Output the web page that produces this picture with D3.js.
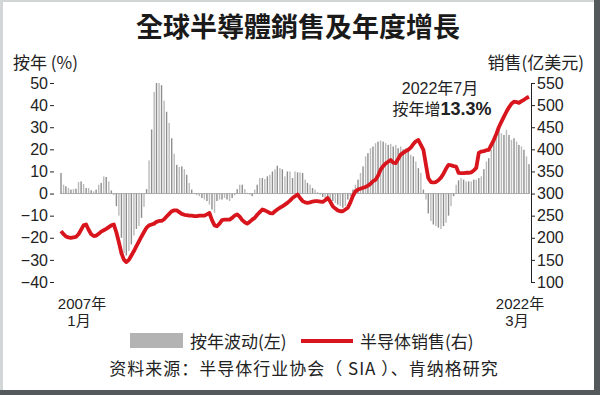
<!DOCTYPE html>
<html>
<head>
<meta charset="utf-8">
<script src="https://cdn.jsdelivr.net/npm/d3@7"></script>
<style>
body{margin:0;background:#54595b;}
svg{display:block;}
</style>
</head>
<body>
<svg id="chart" width="600" height="395"></svg>
<script>
// monthly data, 2007-01 .. 2022-07
var start_month = "2007-01";

// YoY change (%), left axis
var yoy_2007 = [9.3, 4.0, 3.3, 2.5, 1.8, 2.0, 2.2, 5.2, 5.5, 4.3, 2.5, 2.5];
var yoy_2008 = [1.5, 1.0, 1.8, 4.0, 4.8, 7.8, 7.5, 5.5, 1.4, -0.7, -5.7, -10];
var yoy_2009 = [-20, -27, -28, -26, -23, -19, -16, -14.7, -11, -6, 2, 15];
var yoy_2010 = [29, 46, 50, 50, 49, 42, 37, 32, 25, 18, 13, 12];
var yoy_2011 = [12.3, 11, 8.5, 4.8, 1.8, 0.3, -0.5, -1.2, -2, -2.7, -3.4, -5];
var yoy_2012 = [-7.2, -8.7, -3.4, -2.7, -2.7, -2, -2.7, -3.4, -2, -0.8, 2, 4];
var yoy_2013 = [4, 2, 0.3, -0.5, -1.2, 1.8, 4, 7, 7, 6.6, 7.8, 8.5];
var yoy_2014 = [10, 11, 12.6, 11.5, 11, 7.8, 10, 10, 7, 10, 9.6, 9.6];
var yoy_2015 = [9.3, 6.3, 4.8, 4, 2.5, 1.8, 0.5, -0.5, -1.5, -2, -2.7, -3];
var yoy_2016 = [-3.4, -4.2, -5, -5.7, -6.4, -5.7, -2.7, -1.2, 1.8, 4, 6.3, 9.3];
var yoy_2017 = [12.3, 16.8, 18.3, 20.5, 21.3, 22.8, 23.5, 24, 23.5, 22.8, 22, 22.5];
var yoy_2018 = [21.3, 22, 20.5, 21.3, 20, 20.5, 19.5, 17.5, 16.8, 14.5, 11.5, 9.3];
var yoy_2019 = [1.8, -2.7, -9, -12.4, -14, -14.7, -15.4, -16, -14.7, -13.2, -10, -5.7];
var yoy_2020 = [-1.2, 4, 6, 7, 6.3, 5.5, 5.5, 5.5, 6.3, 6.3, 7, 7.8];
var yoy_2021 = [11, 14.5, 16, 19.8, 24.3, 28, 29.5, 27.3, 26.5, 28.8, 26.5, 24.3];
var yoy_2022 = [25, 23.5, 22, 21.3, 19.8, 16.8, 13.3];

// sales (亿美元), right axis
var sales_2007 = [215, 208, 203, 201, 200, 201, 202, 208, 218, 228, 230, 218];
var sales_2008 = [208, 204, 205, 209, 214, 217, 220, 224, 228, 230, 212, 190];
var sales_2009 = [165, 150, 145, 150, 160, 170, 181, 192, 203, 213, 223, 228];
var sales_2010 = [230, 232, 236, 238, 238, 242, 248, 254, 260, 262, 262, 258];
var sales_2011 = [254, 252, 251, 250, 250, 249, 249, 250, 250, 250, 253, 256];
var sales_2012 = [240, 228, 226, 232, 240, 241, 241, 241, 245, 250, 253, 248];
var sales_2013 = [240, 235, 232, 236, 241, 245, 252, 258, 264, 262, 259, 256];
var sales_2014 = [255, 260, 264, 268, 271, 275, 279, 284, 290, 294, 298, 290];
var sales_2015 = [283, 280, 279, 280, 282, 283, 283, 282, 281, 285, 290, 282];
var sales_2016 = [271, 266, 262, 260, 260, 264, 268, 280, 295, 305, 309, 311];
var sales_2017 = [313, 315, 318, 322, 328, 331, 340, 354, 362, 368, 372, 376];
var sales_2018 = [370, 369, 378, 388, 392, 396, 399, 404, 412, 418, 421, 410];
var sales_2019 = [399, 365, 335, 326, 325, 326, 330, 336, 345, 356, 365, 364];
var sales_2020 = [362, 361, 347, 346, 346, 347, 347, 348, 352, 358, 392, 395];
var sales_2021 = [396, 398, 399, 410, 421, 435, 450, 462, 474, 485, 495, 503];
var sales_2022 = [508, 507, 505, 509, 512, 516, 519];

var pct_ticks = [-40, -30, -20, -10, 0, 10, 20, 30, 40, 50];
var sales_ticks = [100, 150, 200, 250, 300, 350, 400, 450, 500, 550];

var yoy = [].concat(yoy_2007, yoy_2008, yoy_2009, yoy_2010, yoy_2011, yoy_2012,
	yoy_2013, yoy_2014, yoy_2015, yoy_2016, yoy_2017, yoy_2018, yoy_2019,
	yoy_2020, yoy_2021, yoy_2022);
var sales = [].concat(sales_2007, sales_2008, sales_2009, sales_2010, sales_2011,
	sales_2012, sales_2013, sales_2014, sales_2015, sales_2016, sales_2017,
	sales_2018, sales_2019, sales_2020, sales_2021, sales_2022);

var num_font = "'Liberation Sans', Arial, 'Noto Sans CJK SC', sans-serif";
var cjk_font = "'Noto Sans CJK SC', sans-serif";

var svg = d3.select("#chart");

var first = d3.timeParse("%Y-%m")(start_month);
var months = sales.map(function(d, i){ return d3.timeMonth.offset(first, i); });

var x = d3.scaleTime()
	.domain([months[0], months[months.length - 1]])
	.range([61, 529]);
var y_pct = d3.scaleLinear().domain([-40, 50]).range([282, 83]);
var y_sales = d3.scaleLinear().domain([100, 550]).range([282, 83]);

// frame
svg.append("rect").attr("width", 600).attr("height", 395).attr("fill", "#54595b");
svg.append("rect").attr("width", 594).attr("height", 390).attr("fill", "#d3d6d6");
svg.append("rect").attr("x", 3).attr("y", 2).attr("width", 591).attr("height", 388).attr("fill", "#fff");

// title
svg.append("text")
	.attr("x", 298).attr("y", 37)
	.attr("text-anchor", "middle")
	.attr("font-family", "'Noto Sans CJK TC', sans-serif")
	.attr("font-weight", "bold")
	.attr("font-size", 27)
	.attr("fill", "#1a1a1a")
	.text("全球半導體銷售及年度增長");

// axis titles
svg.append("text")
	.attr("x", 13).attr("y", 69)
	.attr("font-family", cjk_font).attr("font-size", 17).attr("fill", "#222")
	.text("按年 (%)");
svg.append("text")
	.attr("x", 584).attr("y", 69)
	.attr("text-anchor", "end")
	.attr("font-family", cjk_font).attr("font-size", 17).attr("fill", "#222")
	.text("销售(亿美元)");

// bars
svg.append("g").selectAll("rect")
	.data(yoy)
	.join("rect")
	.attr("x", function(d, i){ return x(months[i]) - 0.7; })
	.attr("width", 1.4)
	.attr("y", function(d){ return Math.min(y_pct(d), y_pct(0)); })
	.attr("height", function(d){ return Math.abs(y_pct(d) - y_pct(0)); })
	.attr("fill", function(d, i){ return i % 2 ? "#bababa" : "#8e8e8e"; });

svg.append("line")
	.attr("x1", 60).attr("x2", 530)
	.attr("y1", y_pct(0)).attr("y2", y_pct(0))
	.attr("stroke", "#9a9a9a").attr("stroke-width", 0.8);

// sales line
var sales_line = d3.line()
	.x(function(d, i){ return x(months[i]); })
	.y(function(d){ return y_sales(d); });

svg.append("path")
	.datum(sales)
	.attr("d", sales_line)
	.attr("fill", "none")
	.attr("stroke", "#d8141c")
	.attr("stroke-width", 3.8)
	.attr("stroke-linejoin", "round");

// left axis
var left_axis = svg.append("g")
	.attr("transform", "translate(54,0)")
	.call(d3.axisLeft(y_pct).tickValues(pct_ticks).tickSize(4).tickPadding(2));
left_axis.select(".domain").remove();

// right axis
var right_axis = svg.append("g")
	.attr("transform", "translate(531,0)")
	.call(d3.axisRight(y_sales).tickValues(sales_ticks).tickSize(4).tickPadding(2));

[left_axis, right_axis].forEach(function(ax){
	ax.selectAll("text")
		.attr("font-family", num_font)
		.attr("font-size", 16)
		.attr("fill", "#222");
	ax.selectAll("line, path").attr("stroke", "#222");
});

// annotation
svg.append("text")
	.attr("x", 440).attr("y", 94)
	.attr("text-anchor", "middle")
	.attr("font-family", num_font).attr("font-size", 16).attr("fill", "#222")
	.text("2022年7月");
var note = svg.append("text")
	.attr("x", 442).attr("y", 115)
	.attr("text-anchor", "middle")
	.attr("font-family", num_font).attr("font-size", 16).attr("fill", "#222");
note.append("tspan").attr("font-family", cjk_font).text("按年增");
note.append("tspan").attr("font-weight", "bold").attr("font-size", 18).text("13.3%");

// date labels
function date_label(cx, line1, line2){
	var t = svg.append("g")
		.attr("font-family", num_font).attr("font-size", 15)
		.attr("fill", "#222").attr("text-anchor", "middle");
	t.append("text").attr("x", cx).attr("y", 309).text(line1);
	t.append("text").attr("x", cx - 3).attr("y", 326).text(line2);
}
date_label(82, "2007年", "1月");
date_label(520, "2022年", "3月");

// legend
svg.append("rect")
	.attr("x", 130).attr("y", 333).attr("width", 53).attr("height", 15)
	.attr("fill", "#b3b3b3");
svg.append("text")
	.attr("x", 190).attr("y", 348)
	.attr("font-family", cjk_font).attr("font-size", 17).attr("fill", "#222")
	.text("按年波动(左)");
svg.append("line")
	.attr("x1", 301).attr("x2", 353).attr("y1", 341).attr("y2", 341)
	.attr("stroke", "#d8141c").attr("stroke-width", 4);
svg.append("text")
	.attr("x", 360).attr("y", 348)
	.attr("font-family", cjk_font).attr("font-size", 17).attr("fill", "#222")
	.text("半导体销售(右)");

// source
svg.append("text")
	.attr("x", 304).attr("y", 375)
	.attr("text-anchor", "middle")
	.attr("font-family", cjk_font).attr("font-size", 17).attr("fill", "#222")
	.attr("letter-spacing", 1)
	.text("资料来源：半导体行业协会（ SIA ）、肯纳格研究");
</script>
</body>
</html>
